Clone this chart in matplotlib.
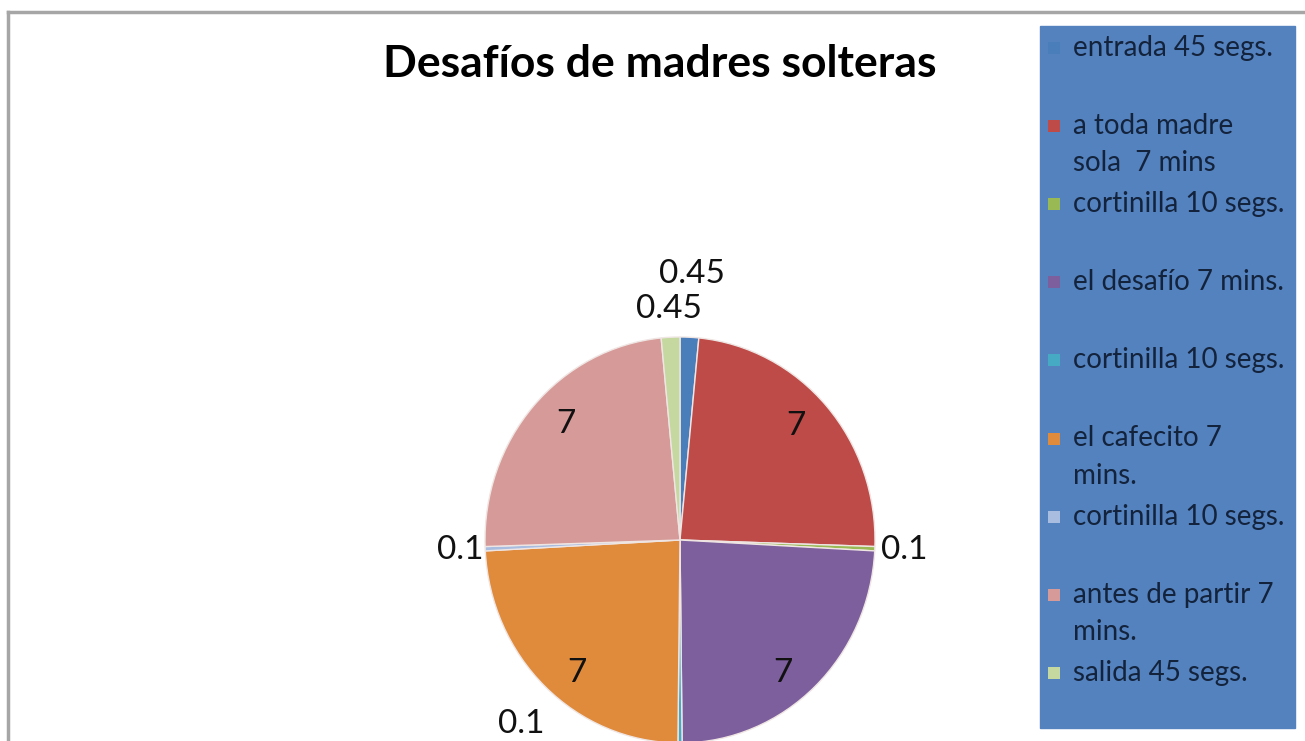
import numpy as np
import matplotlib
matplotlib.use("Agg")
import matplotlib.pyplot as plt
from matplotlib.patches import Rectangle
from matplotlib.lines import Line2D

# ---- data ----
title = "Desafíos de madres solteras"
legend_labels = ["entrada 45 segs.", "a toda madre\nsola  7 mins", "cortinilla 10 segs.",
                 "el desafío 7 mins.", "cortinilla 10 segs.", "el cafecito 7\nmins.",
                 "cortinilla 10 segs.", "antes de partir 7\nmins.", "salida 45 segs."]
values = [0.45, 7, 0.1, 7, 0.1, 7, 0.1, 7, 0.45]
colors = ["#4a7ebb", "#be4b48", "#98b954", "#7d5f9e", "#46aac5",
          "#e08a3c", "#a9bde0", "#d69a98", "#c4d8a0"]

# label placement (radius factor, angle tweak in degrees)
label_r = [1.31, 0.82, 1.15, 0.84, 1.22, 0.84, 1.13, 0.82, 1.14]
label_dtheta = [0, 2, 0, -5, -42, 5, 0, -3, 0]

W, H = 1305, 741
plt.rcParams['font.family'] = ['Lato', 'DejaVu Sans']
fig = plt.figure(figsize=(W / 100, H / 100), dpi=100)
fig.patch.set_facecolor("white")

def fx(x):
    return x / W

def fy(y):
    return 1 - y / H

# chart frame (top and left visible)
fig.add_artist(Line2D([fx(8), fx(1305)], [fy(12), fy(12)], color="#a6a6a6", lw=2.5, transform=fig.transFigure))
fig.add_artist(Line2D([fx(8), fx(8)], [fy(12), fy(741)], color="#a6a6a6", lw=2.5, transform=fig.transFigure))

# pie axes
cx, cy, rx, ry = 680, 540, 195, 203
ax = fig.add_axes([fx(cx - rx), fy(cy + ry), 2 * rx / W, 2 * ry / H])
wedges, _ = ax.pie(values, colors=colors, startangle=90, counterclock=False,
                   wedgeprops=dict(edgecolor="#efe6e4", linewidth=1.0))
ax.set_xlim(-1, 1)
ax.set_ylim(-1, 1)
ax.set_aspect("auto")
ax.axis("off")

total = float(np.sum(values))
cum = np.cumsum(values)
mids = (cum - np.array(values) / 2) / total
for v, m, r, dt in zip(values, mids, label_r, label_dtheta):
    th = np.deg2rad(90 - 360 * m + dt)
    ax.text(r * np.cos(th), r * np.sin(th), f"{v:g}", ha="center", va="center",
            fontsize=24, color="#111111", clip_on=False)

# title
fig.text(fx(660), fy(64), title, ha="center", va="center", fontsize=32,
         fontweight="bold", color="#000000")

# legend (manual, Excel-like filled box)
fig.add_artist(Rectangle((fx(1040), fy(728)), fx(1295) - fx(1040), fy(26) - fy(728),
                         transform=fig.transFigure, facecolor="#5382bf", edgecolor="#5382bf"))
y0, step, line_h = 48, 78.1, 37
for i, (lab, col) in enumerate(zip(legend_labels, colors)):
    y = y0 + i * step
    fig.add_artist(Rectangle((fx(1048), fy(y + 6)), 12 / W, 12 / H, transform=fig.transFigure,
                             facecolor=col, edgecolor="none"))
    for j, line in enumerate(lab.split("\n")):
        fig.text(fx(1073), fy(y + j * line_h), line, ha="left", va="center",
                 fontsize=20, color="#14233c")

fig.savefig("out.png", dpi=100)
